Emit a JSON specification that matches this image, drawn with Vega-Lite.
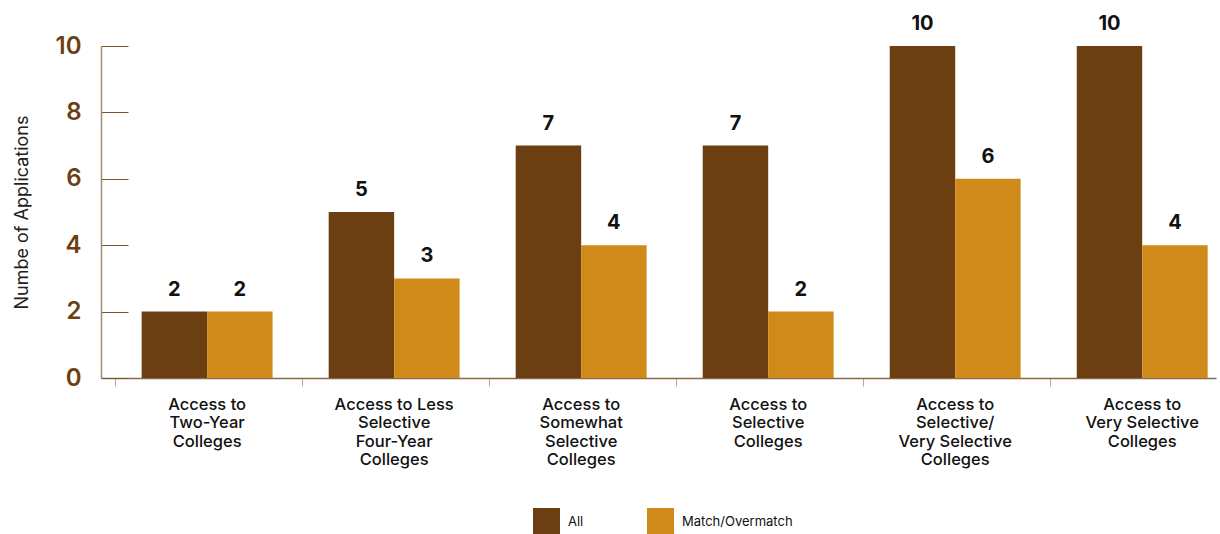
{
  "$schema": "https://vega.github.io/schema/vega-lite/v6.json",
  "width": 1115,
  "height": 332,
  "autosize": {"type": "none"},
  "padding": {"left": 101, "top": 46, "right": 4, "bottom": 156},
  "background": "white",
  "config": {"view": {"stroke": null}, "font": "Inter"},
  "data": {
    "values": [
      {"cat": "Access to|Two-Year|Colleges", "series": "All", "value": 2},
      {"cat": "Access to|Two-Year|Colleges", "series": "Match/Overmatch", "value": 2},
      {"cat": "Access to Less|Selective|Four-Year|Colleges", "series": "All", "value": 5},
      {"cat": "Access to Less|Selective|Four-Year|Colleges", "series": "Match/Overmatch", "value": 3},
      {"cat": "Access to|Somewhat|Selective|Colleges", "series": "All", "value": 7},
      {"cat": "Access to|Somewhat|Selective|Colleges", "series": "Match/Overmatch", "value": 4},
      {"cat": "Access to|Selective|Colleges", "series": "All", "value": 7},
      {"cat": "Access to|Selective|Colleges", "series": "Match/Overmatch", "value": 2},
      {"cat": "Access to|Selective/|Very Selective|Colleges", "series": "All", "value": 10},
      {"cat": "Access to|Selective/|Very Selective|Colleges", "series": "Match/Overmatch", "value": 6},
      {"cat": "Access to|Very Selective|Colleges", "series": "All", "value": 10},
      {"cat": "Access to|Very Selective|Colleges", "series": "Match/Overmatch", "value": 4}
    ]
  },
  "encoding": {
    "x": {
      "field": "cat",
      "type": "nominal",
      "sort": null,
      "title": null,
      "scale": {"paddingInner": 0.3, "paddingOuter": 0.131, "align": 0.83},
      "axis": {
        "labelExpr": "split(datum.label, '|')",
        "labelAngle": 0,
        "labelFontSize": 16.5,
        "labelFontWeight": 500,
        "labelColor": "#111111",
        "labelLineHeight": 18.5,
        "labelPadding": 10,
        "labelBaseline": "top",
        "domainColor": "#8B6A4A",
        "domainWidth": 1.5,
        "ticks": true,
        "tickSize": 8,
        "tickColor": "#B8A898",
        "bandPosition": -0.2
      }
    },
    "xOffset": {"field": "series", "sort": ["All", "Match/Overmatch"]},
    "y": {
      "field": "value",
      "type": "quantitative",
      "title": "Numbe of Applications",
      "scale": {"domain": [0, 10]},
      "axis": {
        "values": [0, 2, 4, 6, 8, 10],
        "grid": false,
        "labelFontSize": 24,
        "labelFontWeight": 600,
        "labelColor": "#6B3F11",
        "labelPadding": 47,
        "tickSize": -27,
        "tickColor": "#7A5530",
        "domainColor": "#A68A6C",
        "domainWidth": 1.5,
        "titleFontSize": 18,
        "titleFontWeight": "normal",
        "titleColor": "#222222",
        "titlePadding": 24
      }
    }
  },
  "layer": [
    {
      "mark": {"type": "bar"},
      "encoding": {
        "color": {
          "field": "series",
          "type": "nominal",
          "sort": ["All", "Match/Overmatch"],
          "scale": {"domain": ["All", "Match/Overmatch"], "range": ["#6B3F11", "#D08A19"]},
          "legend": {
            "title": null,
            "orient": "none",
            "legendX": 432,
            "legendY": 462,
            "direction": "horizontal",
            "symbolType": "square",
            "symbolSize": 729,
            "symbolStrokeWidth": 0,
            "labelFontSize": 13,
            "labelColor": "#111111",
            "labelOffset": 8,
            "columnPadding": 63
          }
        }
      }
    },
    {
      "mark": {"type": "text", "baseline": "alphabetic", "dy": -16, "fontSize": 20, "fontWeight": "bold", "color": "#111111"},
      "encoding": {"text": {"field": "value", "type": "quantitative"}}
    }
  ]
}
